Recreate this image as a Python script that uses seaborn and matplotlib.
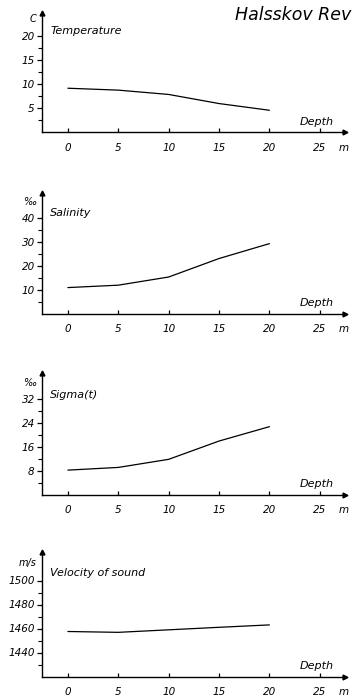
import matplotlib
matplotlib.use('Agg')
import matplotlib.pyplot as plt
import seaborn as sns
import pandas as pd
from matplotlib.ticker import FixedLocator

# Depth profile values
depth = [0, 5, 10, 15, 20]
temperature = [9.2, 8.8, 7.9, 6.0, 4.6]
salinity = [11.0, 12.0, 15.4, 23.1, 29.3]
sigma_t = [8.3, 9.2, 11.9, 18.0, 22.8]
sound_velocity = [1457.5, 1456.8, 1458.9, 1461.0, 1463.0]

x_ticks = [0, 5, 10, 15, 20, 25]
title = 'Halsskov Rev'

panels = [
    # name, unit, values, y limits, major ticks, minor step
    ('Temperature', 'C', temperature, (0, 24.9), [5, 10, 15, 20], 2.5),
    ('Salinity', '‰', salinity, (0, 50.5), [10, 20, 30, 40], 5),
    ('Sigma(t)', '‰', sigma_t, (0, 40.6), [8, 16, 24, 32], 4),
    ('Velocity of sound', 'm/s', sound_velocity, (1420, 1524), [1440, 1460, 1480, 1500], 10),
]

sns.set_style('ticks')
plt.rcParams['font.family'] = ['DejaVu Sans']
plt.rcParams['font.style'] = 'italic'
plt.rcParams['text.color'] = 'black'
plt.rcParams['xtick.color'] = 'black'
plt.rcParams['ytick.color'] = 'black'

fig = plt.figure(figsize=(3.57, 6.99), dpi=100)

# axis bottom / top in pixels from the top of the image
bottoms_px = [132.3, 314.0, 495.0, 676.5]
tops_px = [13.0, 192.7, 373.3, 551.7]
# offsets (points) of unit and name below the top of each y axis
unit_off = [4.0, 6.5, 6.8, 8.4]
name_off = [12.7, 14.4, 15.6, 15.3]
W, H = 357, 699
left_px, right_px = 41.7, 345.0

for i, (name, unit, vals, ylim, yt, minor) in enumerate(panels):
    bpx, tpx = bottoms_px[i], tops_px[i]
    ax = fig.add_axes([left_px / W, (H - bpx) / H,
                       (right_px - left_px) / W, (bpx - tpx) / H])
    df = pd.DataFrame({'depth': depth, 'value': vals})
    sns.lineplot(data=df, x='depth', y='value', ax=ax, color='black', linewidth=0.9)

    ax.set_xlim(-2.6, 27.5)
    ax.set_ylim(*ylim)
    ax.set_xticks(x_ticks)
    ax.set_yticks(yt)
    # minor ticks only halfway below each labelled tick
    ax.yaxis.set_minor_locator(FixedLocator([t - minor for t in yt]))
    ax.set_xlabel('')
    ax.set_ylabel('')
    ax.set_facecolor('none')

    for s in ['top', 'right']:
        ax.spines[s].set_visible(False)
    for s in ['left', 'bottom']:
        ax.spines[s].set_linewidth(1.0)
        ax.spines[s].set_color('black')

    ax.tick_params(axis='y', which='major', direction='out', length=3.5, width=0.9,
                   pad=1.5, labelsize=7.5)
    ax.tick_params(axis='y', which='minor', direction='out', length=3, width=0.8)
    ax.tick_params(axis='x', which='major', direction='in', length=3, width=0.9,
                   pad=7.5, labelsize=7.5)

    # arrow heads on both axes
    ax.plot(0, 1, marker='^', color='black', markersize=3.5, transform=ax.transAxes, clip_on=False)
    ax.plot(1, 0, marker='>', color='black', markersize=3.5, transform=ax.transAxes, clip_on=False)

    ax.annotate(unit, xy=(0, 1), xycoords='axes fraction', xytext=(-4, -unit_off[i]),
                textcoords='offset points', ha='right', va='center', fontsize=7)
    ax.annotate(name, xy=(0, 1), xycoords='axes fraction', xytext=(6, -name_off[i]),
                textcoords='offset points', ha='left', va='center', fontsize=8)
    ax.text(26.4, 10.6 / (bpx - tpx), 'Depth', transform=ax.get_xaxis_transform(),
            ha='right', va='center', fontsize=8)
    ax.text(26.9, -15.4 / (bpx - tpx), 'm', transform=ax.get_xaxis_transform(),
            ha='left', va='center', fontsize=7.5)

fig.text(351 / W, 1 - 15 / H, title, ha='right', va='center', fontsize=12.5)

plt.savefig('out.png', dpi=100)
